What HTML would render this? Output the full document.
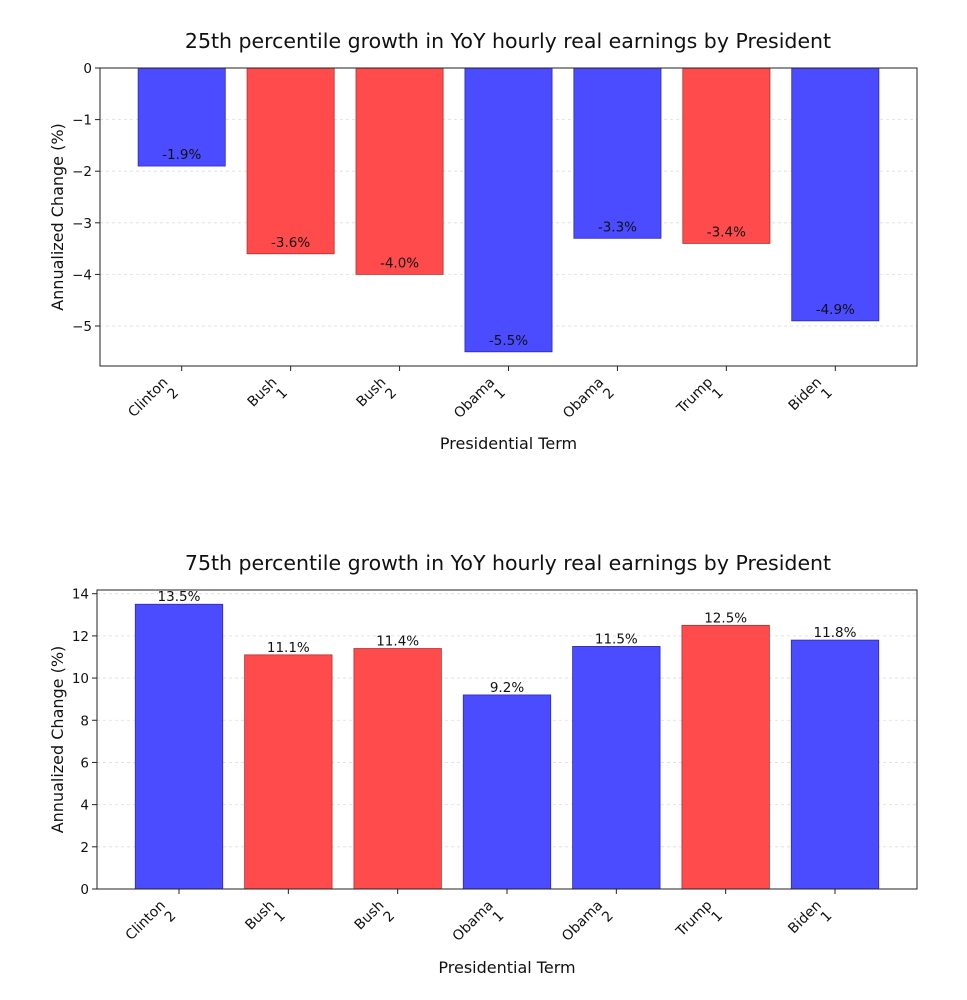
<!DOCTYPE html>
<html><head><meta charset="utf-8">
<style>
body{margin:0;background:#fff;}
svg{display:block;font-family:"DejaVu Sans","Liberation Sans",sans-serif;}
</style></head>
<body>
<svg id="chart" width="967" height="1000" viewBox="0 0 967 1000" xmlns="http://www.w3.org/2000/svg"></svg>
<script>
const names = ["Clinton","Bush","Bush","Obama","Obama","Trump","Biden"];
const terms = ["2","1","2","1","2","1","1"];
const parties = ["D","R","R","D","D","R","D"];
const p25Values = [-1.9,-3.6,-4.0,-5.5,-3.3,-3.4,-4.9];
const p75Values = [13.5,11.1,11.4,9.2,11.5,12.5,11.8];
const p25Ticks = [0,-1,-2,-3,-4,-5];
const p75Ticks = [0,2,4,6,8,10,12,14];

const NS = "http://www.w3.org/2000/svg";
const svg = document.getElementById("chart");
function mk(tag, attrs, parent){
  const e = document.createElementNS(NS, tag);
  for (const k in attrs) e.setAttribute(k, attrs[k]);
  (parent||svg).appendChild(e);
  return e;
}
function drawChart(cfg){
  const g = mk("g", {});
  
  
  const {L,R,T,B,ymin,ymax,vals,ticks} = cfg;
  const y = v => T + (ymax - v) / (ymax - ymin) * (B - T);
  const step = (R - L) / 7.5;
  const x = i => L + (i + 0.75) * step;
  ticks.forEach(t => {
    const gl = mk("line", {x1:L, x2:R, y1:y(t), y2:y(t), stroke:"#ddd", "stroke-width":0.8, "stroke-dasharray":"3,3"}, g);
    
    
  });
  vals.forEach((v,i) => {
    const top = Math.min(y(v), y(0)), h = Math.abs(y(v) - y(0));
    const col = parties[i] === "D" ? "#4b4bff" : "#ff4b4b";
    const edge = parties[i] === "D" ? "#2a2ab0" : "#b03030";
    const b = mk("rect", {x:x(i) - step*0.4, y:top, width:step*0.8, height:h, fill:col, stroke:edge, "stroke-width":0.8}, g);
    
    
    const ly = v < 0 ? y(v) - 7 : y(v) - 3;
    const t = mk("text", {x:x(i), y:ly, "text-anchor":"middle", "font-size":13.5, fill:"#111"}, g);
    t.textContent = v.toFixed(1) + "%";
    
    
    mk("line", {x1:x(i), x2:x(i), y1:B, y2:B+5, stroke:"#222", "stroke-width":1}, g);
    const tg = mk("g", {transform:`translate(${x(i)-13},${B+17}) rotate(-45)`}, g);
    
    
    const t1 = mk("text", {x:0, y:0, "text-anchor":"end", "font-size":14, fill:"#111"}, tg);
    t1.textContent = names[i];
    const t2 = mk("text", {x:0, y:15, "text-anchor":"end", "font-size":14, fill:"#111"}, tg);
    t2.textContent = terms[i];
  });
  ticks.forEach(t => {
    mk("line", {x1:L-5, x2:L, y1:y(t), y2:y(t), stroke:"#222", "stroke-width":1}, g);
    const tl = mk("text", {x:L-8, y:y(t)+5, "text-anchor":"end", "font-size":13.5, fill:"#111"}, g);
    tl.textContent = t < 0 ? "\u2212" + Math.abs(t) : String(t);
    
    
  });
  const fr = mk("rect", {x:L, y:T, width:R-L, height:B-T, fill:"none", stroke:"#222", "stroke-width":1}, g);
  
  
  const title = mk("text", {x:508, y:T-20, "text-anchor":"middle", "font-size":20.5, fill:"#111"}, g);
  title.textContent = cfg.title;
  
  
  const yt = mk("text", {transform:`translate(${cfg.ytx},${(T+B)/2}) rotate(-90)`, "text-anchor":"middle", "font-size":16, fill:"#111"}, g);
  yt.textContent = "Annualized Change (%)";
  
  
  const xt = mk("text", {x:(L+R)/2, y:cfg.xty, "text-anchor":"middle", "font-size":16, fill:"#111"}, g);
  xt.textContent = "Presidential Term";
  
  
}
drawChart({name:"chart-25th-percentile", L:100, R:917, T:68, B:366, ymin:-5.775, ymax:0, vals:p25Values, ticks:p25Ticks,
  title:"25th percentile growth in YoY hourly real earnings by President", ytx:63, xty:449});
drawChart({name:"chart-75th-percentile", L:97, R:917, T:590, B:889, ymin:0, ymax:14.175, vals:p75Values, ticks:p75Ticks,
  title:"75th percentile growth in YoY hourly real earnings by President", ytx:63, xty:973});
</script>
</body></html>
